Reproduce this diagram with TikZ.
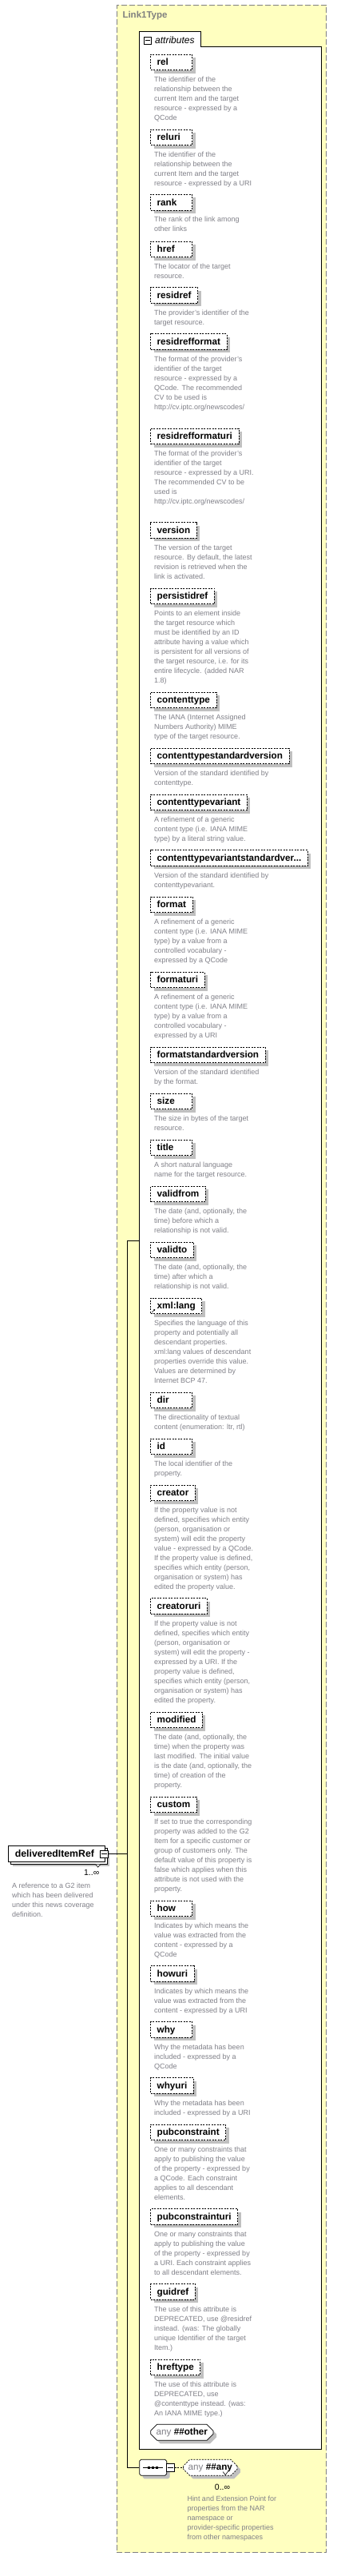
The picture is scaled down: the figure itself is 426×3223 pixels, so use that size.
\documentclass[tikz,border=0pt]{standalone}
\usepackage{fontspec}
\setmainfont{Liberation Sans}
\usepackage{tikz}
\usetikzlibrary{shapes.misc,shadows}
\usetikzlibrary{arrows.meta}
\definecolor{typeyellow}{RGB}{255,255,192}
\definecolor{framegray}{RGB}{128,128,128}
\definecolor{notegray}{RGB}{128,128,136}
\definecolor{shadegray}{RGB}{192,192,192}
\tikzset{
  attr/.style={draw, dash pattern=on 2pt off 1.5pt, line width=0.7pt, fill=white,
    anchor=north west, minimum height=19.6pt, inner xsep=8pt, inner ysep=0pt,
    text height=9.6pt, text depth=1.8pt, align=left,
    font=\fontsize{11.7}{14}\selectfont\bfseries,
    drop shadow={shadow xshift=4pt, shadow yshift=-4pt, fill=shadegray, opacity=1}},
  attrshort/.style={attr, text width=36pt},
  attrnote/.style={anchor=north west, inner sep=0pt, align=left, text=notegray,
    font=\fontsize{9}{12}\selectfont, execute at begin node=\strut},
  minusbox/.style={draw, fill=white, line width=0.6pt, minimum width=9.5pt,
    minimum height=9pt, inner sep=0pt},
  anybox/.style={chamfered rectangle, chamfered rectangle sep=4pt, draw, fill=white,
    line width=0.7pt, anchor=west, minimum height=20pt, inner xsep=2pt, inner ysep=0pt,
    font=\fontsize{11.7}{14}\selectfont,
    drop shadow={shadow xshift=4pt, shadow yshift=-4pt, fill=shadegray, opacity=1}},
}

\begin{document}
\begin{tikzpicture}[x=1pt,y=-1pt]
  \useasboundingbox (0,0) rectangle (426,3223);
  % Complex type
  \node[draw=framegray, dash pattern=on 7pt off 3pt, line width=0.7pt, fill=typeyellow,
    anchor=north west, minimum width=262.3pt, minimum height=3187.6pt, inner sep=0pt]
    (linktype) at (146,5.7) {};
  \node[anchor=west, inner sep=0pt, text=framegray, font=\fontsize{11.5}{14}\selectfont\bfseries]
    (linkname) at (153.3,20) {Link1Type};
  % Attribute group
  \node[fill=white, anchor=north west, minimum width=227.4pt, minimum height=3005.6pt,
    inner sep=0pt] (attrs) at (174.3,58.7) {};
  \node[fill=white, anchor=south west, minimum width=76.7pt, minimum height=19pt,
    inner sep=0pt] (attrtab) at (174.3,58.7) {};
  \draw[line width=0.8pt] (attrtab.south east) -- (attrs.north east) -- (attrs.south east)
    -- (attrs.south west) -- (attrtab.north west) -- (attrtab.north east) -- cycle;
  \node[minusbox] (attrminus) at (184.7,50.5) {};
  \draw[line width=0.6pt] ([xshift=2pt]attrminus.west) -- ([xshift=-2pt]attrminus.east);
  \node[anchor=west, inner sep=0pt, font=\fontsize{12}{14}\selectfont\itshape]
    (attrlabel) at (194,50) {attributes};
  %
  \node[attrshort] (rel) at (188.3,67.7) {rel};
  \node[attrnote] (relnote) at (193,95.7) {The identifier of the\\relationship between the\\current Item and the target\\resource - expressed by a\\QCode};
  \node[attrshort] (reluri) at (188.3,161.7) {reluri};
  \node[attrnote] (relurinote) at (193,189.7) {The identifier of the\\relationship between the\\current Item and the target\\resource - expressed by a URI};
  \node[attrshort] (rank) at (188.3,243) {rank};
  \node[attrnote] (ranknote) at (193,271) {The rank of the link among\\other links};
  \node[attrshort] (href) at (188.3,301.7) {href};
  \node[attrnote] (hrefnote) at (193,329.7) {The locator of the target\\resource.};
  \node[attr] (residref) at (188.3,359.3) {residref};
  \node[attrnote] (residrefnote) at (193,387.3) {The  provider's identifier of the\\target resource.};
  \node[attr] (residrefformat) at (188.3,417.3) {residrefformat};
  \node[attrnote] (residrefformatnote) at (193,445.3) {The format of the provider's\\identifier of the target\\resource - expressed by a\\QCode. The recommended\\CV to be used is\\http://cv.iptc.org/newscodes/};
  \node[attr] (residrefformaturi) at (188.3,535.7) {residrefformaturi};
  \node[attrnote] (residrefformaturinote) at (193,563.7) {The format of the provider's\\identifier of the target\\resource - expressed by a URI.\\The recommended CV to be\\used is\\http://cv.iptc.org/newscodes/};
  \node[attr] (version) at (188.3,653.3) {version};
  \node[attrnote] (versionnote) at (193,681.3) {The version of the target\\resource. By default, the latest\\revision is retrieved when the\\link is activated.};
  \node[attr] (persistidref) at (188.3,735.7) {persistidref};
  \node[attrnote] (persistidrefnote) at (193,763.7) {Points to an element inside\\the target resource which\\must be identified by an ID\\attribute having a value which\\is persistent for all versions of\\the target resource, i.e. for its\\entire lifecycle. (added NAR\\1.8)};
  \node[attr] (contenttype) at (188.3,865.7) {contenttype};
  \node[attrnote] (contenttypenote) at (193,893.7) {The IANA (Internet Assigned\\Numbers Authority) MIME\\type of the target resource.};
  \node[attr] (ctstdversion) at (188.3,935.7) {contenttypestandardversion};
  \node[attrnote] (ctstdversionnote) at (193,963.7) {Version of the standard identified by\\contenttype.};
  \node[attr] (ctvariant) at (188.3,993.7) {contenttypevariant};
  \node[attrnote] (ctvariantnote) at (193,1021.7) {A refinement of a generic\\content type (i.e. IANA MIME\\type) by a literal string value.};
  \node[attr] (ctvariantstdversion) at (188.3,1063.3) {contenttypevariantstandardver...};
  \node[attrnote] (ctvariantstdversionnote) at (193,1091.3) {Version of the standard identified by\\contenttypevariant.};
  \node[attr] (format) at (188.3,1121.7) {format};
  \node[attrnote] (formatnote) at (193,1149.7) {A refinement of a generic\\content type (i.e. IANA MIME\\type) by a value from a\\controlled vocabulary -\\expressed by a QCode};
  \node[attr] (formaturi) at (188.3,1215.7) {formaturi};
  \node[attrnote] (formaturinote) at (193,1243.7) {A refinement of a generic\\content type (i.e. IANA MIME\\type) by a value from a\\controlled vocabulary -\\expressed by a URI};
  \node[attr] (formatstdversion) at (188.3,1309.7) {formatstandardversion};
  \node[attrnote] (formatstdversionnote) at (193,1337.7) {Version of the standard identified\\by the format.};
  \node[attrshort] (size) at (188.3,1367.7) {size};
  \node[attrnote] (sizenote) at (193,1395.7) {The size in bytes of the target\\resource.};
  \node[attrshort] (title) at (188.3,1425.7) {title};
  \node[attrnote] (titlenote) at (193,1453.7) {A short natural language\\name for the target resource.};
  \node[attr] (validfrom) at (188.3,1483.7) {validfrom};
  \node[attrnote] (validfromnote) at (193,1511.7) {The date (and, optionally, the\\time) before which a\\relationship is not valid.};
  \node[attr] (validto) at (188.3,1553.7) {validto};
  \node[attrnote] (validtonote) at (193,1581.7) {The date (and, optionally, the\\time) after which a\\relationship is not valid.};
  \node[attr] (xmllang) at (188.3,1623.7) {xml:lang};
  \draw[line width=0.6pt, -{Latex[length=2pt,width=2.5pt]}] ([xshift=2pt,yshift=2pt]xmllang.south west) -- ++(4,-4);
  \node[attrnote] (xmllangnote) at (193,1651.7) {Specifies the language of this\\property and potentially all\\descendant properties.\\xml:lang values of descendant\\properties override this value.\\Values are determined by\\Internet BCP 47.};
  \node[attrshort] (dir) at (188.3,1741.7) {dir};
  \node[attrnote] (dirnote) at (193,1769.7) {The directionality of textual\\content (enumeration: ltr, rtl)};
  \node[attrshort] (id) at (188.3,1799.7) {id};
  \node[attrnote] (idnote) at (193,1827.7) {The local identifier of the\\property.};
  \node[attr] (creator) at (188.3,1857.7) {creator};
  \node[attrnote] (creatornote) at (193,1885.7) {If the property value is not\\defined, specifies which entity\\(person, organisation or\\system) will edit the property\\value - expressed by a QCode.\\If the property value is defined,\\specifies which entity (person,\\organisation or system) has\\edited the property value.};
  \node[attr] (creatoruri) at (188.3,1999.3) {creatoruri};
  \node[attrnote] (creatorurinote) at (193,2027.3) {If the property value is not\\defined, specifies which entity\\(person, organisation or\\system) will edit the property -\\expressed by a URI. If the\\property value is defined,\\specifies which entity (person,\\organisation or system) has\\edited the property.};
  \node[attr] (modified) at (188.3,2141.7) {modified};
  \node[attrnote] (modifiednote) at (193,2169.7) {The date (and, optionally, the\\time) when the property was\\last modified. The initial value\\is the date (and, optionally, the\\time) of creation of the\\property.};
  \node[attr] (custom) at (188.3,2247.7) {custom};
  \node[attrnote] (customnote) at (193,2275.7) {If set to true the corresponding\\property was added to the G2\\Item for a specific customer or\\group of customers only. The\\default value of this property is\\false which applies when this\\attribute is not used with the\\property.};
  \node[attrshort] (how) at (188.3,2377.7) {how};
  \node[attrnote] (hownote) at (193,2405.7) {Indicates by which means the\\value was extracted from the\\content - expressed by a\\QCode};
  \node[attr] (howuri) at (188.3,2459.3) {howuri};
  \node[attrnote] (howurinote) at (193,2487.3) {Indicates by which means the\\value was extracted from the\\content - expressed by a URI};
  \node[attrshort] (why) at (188.3,2529.3) {why};
  \node[attrnote] (whynote) at (193,2557.3) {Why the metadata has been\\included - expressed by a\\QCode};
  \node[attr] (whyuri) at (188.3,2599.3) {whyuri};
  \node[attrnote] (whyurinote) at (193,2627.3) {Why the metadata has been\\included - expressed by a URI};
  \node[attr] (pubconstraint) at (188.3,2657.7) {pubconstraint};
  \node[attrnote] (pubconstraintnote) at (193,2685.7) {One or many constraints that\\apply to publishing the value\\of the property - expressed by\\a QCode. Each constraint\\applies to all descendant\\elements.};
  \node[attr] (pubconstrainturi) at (188.3,2763.3) {pubconstrainturi};
  \node[attrnote] (pubconstrainturinote) at (193,2791.3) {One or many constraints that\\apply to publishing the value\\of the property - expressed by\\a URI. Each constraint applies\\to all descendant elements.};
  \node[attr] (guidref) at (188.3,2857.3) {guidref};
  \node[attrnote] (guidrefnote) at (193,2885.3) {The use of this attribute is\\DEPRECATED, use @residref\\instead. (was: The globally\\unique Identifier of the target\\Item.)};
  \node[attr] (hreftype) at (188.3,2951.7) {hreftype};
  \node[attrnote] (hreftypenote) at (193,2979.7) {The use of this attribute is\\DEPRECATED, use\\@contenttype instead. (was:\\An IANA MIME type.)};
  % Any attribute
  \node[anybox, minimum width=78.4pt] (anyother) at (188.3,3043.3) {\textcolor{notegray}{any}\ \textbf{\#\#other}};
  % Element
  \node[draw, fill=white, line width=0.7pt, anchor=north west, minimum height=19.6pt,
    text width=104pt, inner xsep=8.5pt, inner ysep=0pt, text height=9.8pt, text depth=2pt,
    font=\fontsize{12.3}{14}\selectfont\bfseries,
    general shadow={fill=shadegray, shadow xshift=6pt, shadow yshift=-6pt},
    copy shadow={shadow xshift=3pt, shadow yshift=-3pt}]
    (dref) at (10,2309.3) {deliveredItemRef};
  \node[minusbox] (drefminus) at (130.5,2319.3) {};
  \draw[line width=0.6pt] ([xshift=2pt]drefminus.west) -- ([xshift=-2pt]drefminus.east);
  \draw[line width=0.6pt, fill=white] ([xshift=-6pt,yshift=-3pt]dref.south east)
    -- ([xshift=-9pt,yshift=-6.5pt]dref.south east) -- ([xshift=-12pt,yshift=-3pt]dref.south east);
  \node[inner sep=0pt, font=\fontsize{10.5}{12}\selectfont] (drefocc) at (114.7,2343.3) {1..∞};
  \node[attrnote] (drefnote) at (15,2355.9) {A reference to a G2 item\\which has been delivered\\under this news coverage\\definition.};
  % Sequence
  \node[anybox, minimum width=34pt] (seq) at (174.3,3087.3) {};
  \draw[line width=1.3pt] ([xshift=5pt]seq.west) -- ([xshift=-5pt]seq.east);
  \foreach \dx in {-4.8,0,4.8}
    \fill ([xshift=\dx pt]seq.center) ++(-1.5,-1.5) rectangle ++(3,3);
  \node[minusbox, minimum width=10pt, minimum height=10pt] (seqminus) at (213.3,3087.3) {};
  \draw[line width=0.6pt] ([xshift=2pt]seqminus.west) -- ([xshift=-2pt]seqminus.east);
  \node[anybox, dash pattern=on 2pt off 1.5pt, minimum width=66.7pt] (anyany) at (229.3,3087.3)
    {\textcolor{notegray}{any}\ \textbf{\#\#any}};
  \draw[line width=0.6pt, fill=white] ([xshift=-8pt,yshift=1pt]anyany.south east)
    -- ([xshift=-11pt,yshift=-3pt]anyany.south east) -- ([xshift=-14pt,yshift=1pt]anyany.south east);
  \node[inner sep=0pt, font=\fontsize{10.5}{12}\selectfont] (anyocc) at (278.5,3111.7) {0..∞};
  \node[attrnote] (anynote) at (234.3,3123.2) {Hint and Extension Point for\\properties from the NAR\\namespace or\\provider-specific properties\\from other namespaces};
  % Connectors
  \coordinate (attrin) at (174.3,1552.3);
  \coordinate (spine) at (159.7,2319.3);
  \draw[line width=0.8pt] (drefminus.east) -- (spine);
  \draw[line width=0.8pt] (attrin) -- (attrin -| spine) -- (seq.west -| spine) -- (seq.west);
  \draw[line width=0.7pt, dash pattern=on 2pt off 1.5pt] (seqminus.east) -- (anyany.west);
\end{tikzpicture}
\end{document}
